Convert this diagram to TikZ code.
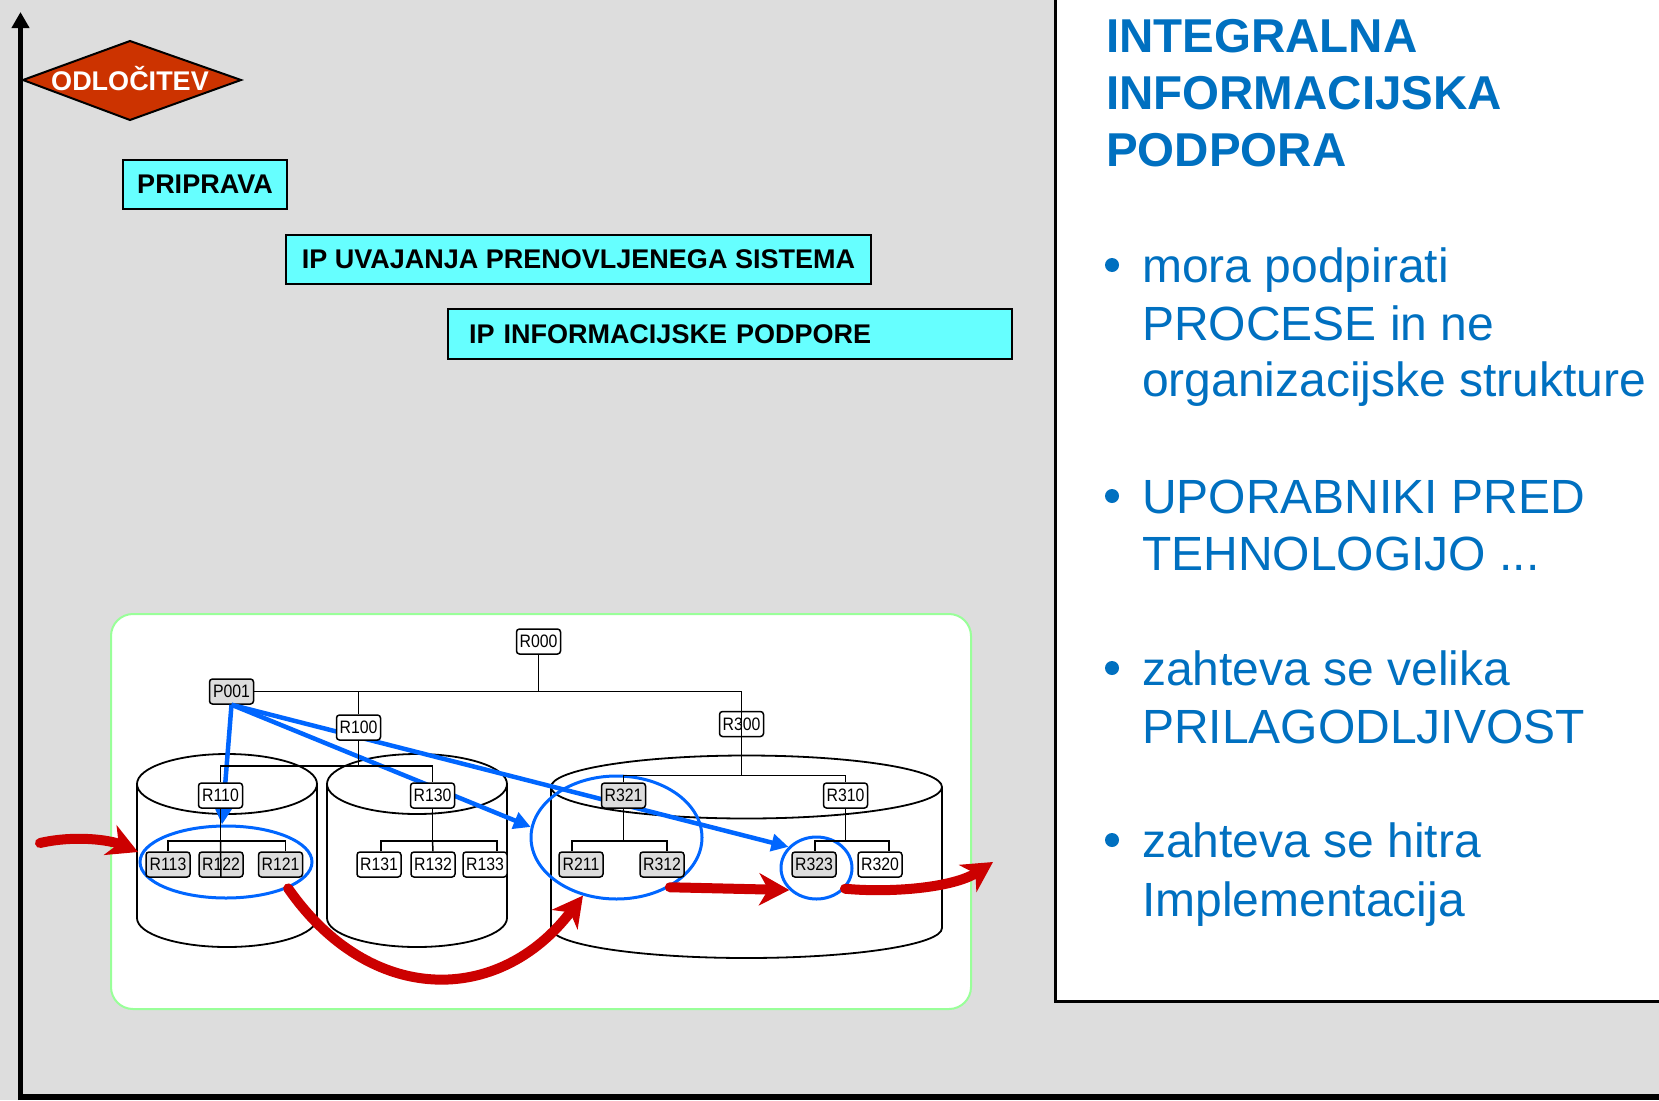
\documentclass[tikz,border=0pt]{standalone}
\usepackage{fontspec}
\setmainfont{Liberation Sans}
\newfontfamily\nodefont[FakeStretch=0.88]{Liberation Sans}
\usetikzlibrary{shapes.geometric,arrows.meta}
\definecolor{bg}{RGB}{221,221,221}
\definecolor{cyanbox}{RGB}{102,255,255}
\definecolor{diam}{RGB}{204,51,0}
\definecolor{bblue}{RGB}{0,102,255}
\definecolor{rred}{RGB}{204,0,0}
\definecolor{tblue}{RGB}{0,112,192}
\definecolor{ngrey}{RGB}{221,221,221}
\definecolor{pgreen}{RGB}{153,255,153}
\begin{document}
\begin{tikzpicture}[x=1pt,y=-1pt,
  rbox/.style={draw, line width=1.5pt, rounded corners=3pt, fill=white, minimum width=44pt, minimum height=25pt, inner sep=0pt, font=\nodefont\fontsize{18}{20}\selectfont},
  gbox/.style={rbox, fill=ngrey},
  cbox/.style={draw, line width=2.5pt, fill=cyanbox, minimum height=49pt, inner sep=0pt, font=\fontsize{27}{30}\selectfont\bfseries},
  tree/.style={line width=1.5pt},
  cyl/.style={line width=1.8pt},
  bell/.style={draw=bblue, line width=3pt, ellipse, inner sep=0pt},
  barrow/.style={draw=bblue, line width=4.5pt, -{Triangle[length=17pt,width=17pt]}},
  rarrow/.style={draw=rred, line width=10pt, line cap=round, -{Stealth[length=30pt,width=32pt,inset=9pt]}},
  rtext/.style={anchor=base west, inner sep=0pt, text=tblue, font=\fontsize{48}{56}\selectfont},
  ttext/.style={anchor=base west, inner sep=0pt, text=tblue, font=\fontsize{47.5}{56}\selectfont\bfseries},
]
\useasboundingbox (0,0) rectangle (1659,1100);
\fill[bg] (0,0) rectangle (1659,1100);

% right panel
\fill[white] (1055,0) rectangle (1659,1001);
\draw[line width=3pt] (1055.5,0) -- (1055.5,1001.5) -- (1659,1001.5);

% axes
\coordinate (axbot) at (20.5,1100);
\coordinate (axtop) at (20.5,12);
\coordinate (axleft) at (18,1097);
\coordinate (axright) at (1659,1097);
\draw[line width=5pt, -{Triangle[length=16pt,width=17pt]}] (axbot) -- (axtop);
\draw[line width=6pt] (axleft) -- (axright);

% decision diamond and phase boxes
\draw[line width=2pt, fill=diam, line join=miter] (23,80) -- (130,41) -- (241,80) -- (130,120) -- cycle;
\node[inner sep=0pt, text=white, font=\fontsize{27}{30}\selectfont\bfseries] (odl) at (130,79) {ODLOČITEV};
\node[cbox, minimum width=164pt] (prip) at (205,184.5) {PRIPRAVA};
\node[cbox, minimum width=585pt] (uvaj) at (578.5,259.5) {IP UVAJANJA PRENOVLJENEGA SISTEMA};
\node[cbox, minimum height=50pt, text width=522pt, align=left, inner xsep=21pt] (ipinf) at (730,334) {IP INFORMACIJSKE PODPORE};

% org chart panel
\draw[pgreen, line width=2pt, fill=white, rounded corners=22pt] (111,614) rectangle (971,1009);

% cylinders
\draw[cyl] (137,784) -- (137,918) arc[start angle=180, end angle=0, x radius=90, y radius=29] -- (317,784);
\draw[cyl] (227,784) ellipse [x radius=90, y radius=30];
\draw[cyl] (327,784) -- (327,918) arc[start angle=180, end angle=0, x radius=90, y radius=29] -- (507,784);
\draw[cyl] (417,784) ellipse [x radius=90, y radius=30];
\draw[cyl] (551,787) -- (551,928) arc[start angle=180, end angle=0, x radius=195.5, y radius=30] -- (942,787);
\draw[cyl] (746.5,787) ellipse [x radius=195.5, y radius=31.5];

% first nodes needed by connectors
\node[rbox] (R000) at (538.5,641.5) {R000};
\node[gbox] (P001) at (231.5,691.5) {P001};

% blue selection ellipses
\node[bell, minimum width=172pt, minimum height=72pt] (E1) at (226,862) {};
\node[bell, minimum width=171pt, minimum height=123pt] (E2) at (616.5,837.5) {};
\node[bell, minimum width=71pt, minimum height=62pt] (E3) at (816.5,868) {};

% blue arrows
\draw[barrow] (P001.south) -- ([xshift=-4pt]E1.north);
\draw[barrow] (P001.south) -- (E2.173);
\draw[barrow] (P001.south) -- (E3.143);

% remaining nodes
\node[rbox] (R100) at (358.5,727.5) {R100};
\node[rbox] (R300) at (741.5,724) {R300};
\node[rbox] (R110) at (220.5,795.5) {R110};
\node[rbox] (R130) at (432.5,795.5) {R130};
\node[gbox] (R321) at (623.5,795.5) {R321};
\node[rbox] (R310) at (845.5,795.5) {R310};
\node[gbox] (R113) at (168,864.5) {R113};
\node[gbox] (R122) at (221,864.5) {R122};
\node[gbox] (R121) at (280.5,864.5) {R121};
\node[rbox] (R131) at (379,864.5) {R131};
\node[rbox] (R132) at (433,864.5) {R132};
\node[rbox] (R133) at (485,864.5) {R133};
\node[gbox] (R211) at (581,864.5) {R211};
\node[gbox] (R312) at (662,864.5) {R312};
\node[gbox] (R323) at (814,864.5) {R323};
\node[rbox] (R320) at (880,864.5) {R320};

% tree connectors
\draw[tree] (R000.south) -- (R000.south |- P001.east);
\draw[tree] (P001.east) -| (R300.north);
\draw[tree] (R300.north) -- (R300.south);
\draw[tree] (R100.north) -- (R100.north |- P001.east);
\draw[tree] (R100.south) -- ++(0,25) coordinate (j100);
\draw[tree] (R110.north) |- (j100) -| (R130.north);
\draw[tree] (R110.south) -- ++(0,32) coordinate (j110);
\draw[tree] (R113.north) |- (j110) -| ([xshift=5pt]R121.north);
\draw[tree] (j110) -- (R122.south);
\draw[tree] (R130.south) -- ++(0,32) coordinate (j130);
\draw[tree] ([xshift=2pt]R131.north) |- (j130) -| ([xshift=12pt]R133.north);
\draw[tree] (j130) -- (R132.north);
\draw[tree] (R300.south) -- ++(0,38) coordinate (j300);
\draw[tree] (R321.north) |- (j300) -| (R310.north);
\draw[tree] (R321.south) -- ++(0,32) coordinate (j321);
\draw[tree] ([xshift=-9pt]R211.north) |- (j321) -| ([xshift=5pt]R312.north);
\draw[tree] (R310.south) -- ++(0,32) coordinate (j310);
\draw[tree] ([xshift=1pt]R323.north) |- (j310) -| ([xshift=9pt]R320.north);

% red flow arrows
\coordinate (in1) at (40,843);
\coordinate (c1l) at (138,852);
\coordinate (out4) at (993,862);
\draw[rarrow] (in1) .. controls (75,835) and (110,840) .. (c1l);
\draw[rarrow] (E1.-23) .. controls (370,1006) and (499,1006) .. (E2.240);
\draw[rarrow] (E2.-43) -- (E3.219);
\draw[rarrow] (E3.-36) .. controls (890,893) and (953,888) .. (out4);

% right text
\node[ttext] (t1) at (1106,52.3) {INTEGRALNA};
\node[ttext] (t2) at (1106,109) {INFORMACIJSKA};
\node[ttext] (t3) at (1106,166.7) {PODPORA};

\fill[tblue] (1112,265) circle (7);
\fill[tblue] (1112,496) circle (7);
\fill[tblue] (1112,668) circle (7);
\fill[tblue] (1112,840) circle (7);
\node[rtext] (b1a) at (1142,282) {mora podpirati};
\node[rtext] (b1b) at (1142,340) {PROCESE in ne};
\node[rtext] (b1c) at (1142,396) {organizacijske strukture};
\node[rtext] (b2a) at (1142,513) {UPORABNIKI PRED};
\node[rtext] (b2b) at (1142,570) {TEHNOLOGIJO ...};
\node[rtext] (b3a) at (1142,685) {zahteva se velika};
\node[rtext] (b3b) at (1142,743) {PRILAGODLJIVOST};
\node[rtext] (b4a) at (1142,857) {zahteva se hitra};
\node[rtext] (b4b) at (1142,916) {Implementacija};
\end{tikzpicture}
\end{document}
